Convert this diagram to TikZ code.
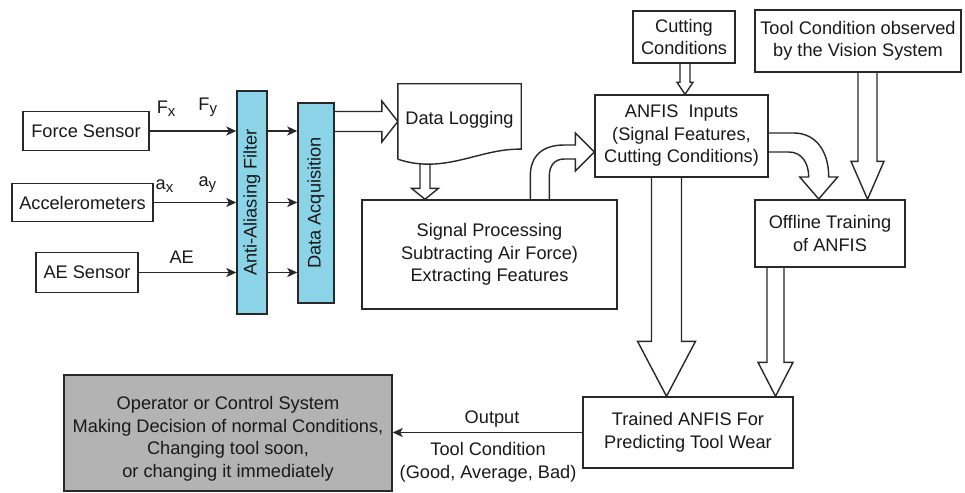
\documentclass[tikz,border=0pt]{standalone}
\usepackage{fontspec}
\setmainfont{Liberation Sans}
\usetikzlibrary{calc,arrows.meta,backgrounds}

\definecolor{filterblue}{RGB}{139,211,230}
\definecolor{panelgray}{RGB}{179,179,179}
\definecolor{linegray}{RGB}{40,40,40}

% hollow block arrows: start, tip, shaft half width, head half width, head length
\newcommand{\vblock}[5]{%
  \draw[blockarrow] ($(#1)+(-#3,0)$) -- ($(#2)+(-#3,-#5)$) -- ($(#2)+(-#4,-#5)$) -- (#2)
    -- ($(#2)+(#4,-#5)$) -- ($(#2)+(#3,-#5)$) -- ($(#1)+(#3,0)$);}
\newcommand{\hblock}[5]{%
  \draw[blockarrow] ($(#1)+(0,-#3)$) -- ($(#2)+(-#5,-#3)$) -- ($(#2)+(-#5,-#4)$) -- (#2)
    -- ($(#2)+(-#5,#4)$) -- ($(#2)+(-#5,#3)$) -- ($(#1)+(0,#3)$);}
% signal subscript
\newcommand{\sub}[1]{\raisebox{-3pt}{\fontsize{15}{15}\selectfont #1}}

\begin{document}
\begin{tikzpicture}[x=1pt,y=-1pt,
    every node/.style={font=\fontsize{18.2}{22.5}\selectfont, text=black!90},
    box/.style={draw=linegray, line width=1.4pt, fill=white, inner sep=0pt, align=center},
    filterbox/.style={box, fill=filterblue, rotate=90},
    outline/.style={draw=linegray, line width=1.4pt, fill=white},
    sig/.style={draw=linegray, line width=1.7pt, -{Stealth[length=10pt,width=9pt,inset=2.5pt]}},
    blockarrow/.style={draw=linegray, line width=1.4pt, fill=white},
    lbl/.style={inner sep=0pt}]
  \useasboundingbox (0,0) rectangle (965,492);

  % Sensors
  \node[box, minimum width=126pt, minimum height=39pt] (fs) at (86,131) {Force Sensor};
  \node[box, minimum width=141pt, minimum height=38pt] (acc) at (82.5,202.5) {Accelerometers};
  \node[box, minimum width=102pt, minimum height=40pt] (ae) at (87,272.5) {AE Sensor};

  % Filter and acquisition bars
  \node[filterbox, minimum width=223pt, minimum height=30pt] (aaf) at (252,202.5) {Anti-Aliasing Filter};
  \node[filterbox, minimum width=200pt, minimum height=36pt] (daq) at (316,203) {Data Acquisition};

  % Signal lines
  \draw[sig] (fs.east) -- (fs.east -| aaf.north)
    node[pos=0.19, above=14pt, lbl] {F\sub{x}}
    node[pos=0.67, above=14pt, lbl] {F\sub{y}};
  \draw[sig] (acc.east) -- (acc.east -| aaf.north)
    node[pos=0.13, above=9pt, lbl] {a\sub{x}}
    node[pos=0.65, above=9pt, lbl] {a\sub{y}};
  \draw[sig] (ae.east) -- (ae.east -| aaf.north)
    node[pos=0.44, above=8pt, lbl] {AE};
  \foreach \s in {fs,acc,ae}
    \draw[sig] (\s.east -| aaf.south) -- (\s.east -| daq.north);

  % Data logging sheet
  \node[lbl, minimum width=123pt, minimum height=75pt] (dl) at (459.5,121.5) {};
  \draw[outline] (dl.south west) -- (dl.north west) -- (dl.north east) -- ([yshift=10pt]dl.south east)
    .. controls (480,148) and (445,175) .. (dl.south west);
  \node[lbl] (dltxt) at ($(dl.center)+(0,-2)$) {Data Logging};

  % Processing and ANFIS boxes
  \node[box, minimum width=255pt, minimum height=109pt] (sp) at (489.5,254.5)
    {Signal Processing\\Subtracting Air Force)\\Extracting Features};
  \node[box, minimum width=102pt, minimum height=52pt] (cut) at (684,37) {Cutting\\Conditions};
  \node[box, minimum width=173pt, minimum height=82pt] (anfis) at (681.5,136)
    {ANFIS\ \ Inputs\\(Signal Features,\\Cutting Conditions)};
  \node[box, minimum width=206pt, minimum height=62pt] (vis) at (858,41)
    {Tool Condition observed\\by the Vision System};
  \node[box, minimum width=150pt, minimum height=67pt] (off) at (830,233.5) {Offline Training\\of ANFIS};
  \node[box, minimum width=210pt, minimum height=71pt] (trn) at (688,432.5)
    {Trained ANFIS For\\Predicting Tool Wear};

  % Operator panel
  \node[box, fill=panelgray, minimum width=328pt, minimum height=116pt] (op) at (228,433) {};
  \node[lbl, align=center] (optxt) at ($(op.center)+(0,6)$)
    {Operator or Control System\\Making Decision of normal Conditions,\\Changing tool soon,\\or changing it immediately};

  % Output line
  \draw[sig] (trn.west) -- (trn.west -| op.east)
    node[pos=0.476, above=4pt, lbl] {Output}
    node[pos=0.497, below=9pt, lbl, align=center] {Tool Condition\\(Good, Average, Bad)};

  % Block arrows
  \begin{pgfonlayer}{background}
    \coordinate (h1) at (daq.south |- dl.west);
    \hblock{h1}{dl.west}{10}{20.5}{16}
    \coordinate (d1) at ($(dl.south)+(-34.5,3)$);
    \coordinate (d2) at (d1 |- sp.north);
    \vblock{d1}{d2}{5}{13.5}{11}
    \coordinate (c1) at ($(cut.south)+(1,0)$);
    \coordinate (c2) at (c1 |- anfis.north);
    \vblock{c1}{c2}{5}{8}{12}
    \coordinate (v1) at ($(vis.south)+(9.5,0)$);
    \coordinate (v2) at (v1 |- off.north);
    \vblock{v1}{v2}{9.5}{16.5}{38}
    \coordinate (a1) at ($(anfis.south)+(-15,0)$);
    \coordinate (a2) at (a1 |- trn.north);
    \vblock{a1}{a2}{15}{29}{55}
    \coordinate (o1) at ($(off.south)+(-54.5,0)$);
    \coordinate (o2) at (o1 |- trn.north);
    \vblock{o1}{o2}{8.5}{17.5}{34}
    % bent arrow into the ANFIS inputs
    \begin{scope}[shift={(anfis.west)}]
      \draw[blockarrow] (-64,64) -- (-64,40) .. controls (-64,20) and (-52,9) .. (-30,9) -- (-19,9)
        -- (-19,-3) -- (0,16) -- (-19,35) -- (-19,23) -- (-30,23)
        .. controls (-40,23) and (-45,30) .. (-45,40) -- (-45,64);
    \end{scope}
    % bent arrow into the offline training
    \begin{scope}[shift={(anfis.east)}]
      \draw[blockarrow] (0,-3) -- (25,-3) .. controls (47,-3) and (60,15) .. (60,41) -- (69,41)
        -- (50,63) -- (31,41) -- (40,41) .. controls (40,27) and (33,16) .. (20,16) -- (0,16);
    \end{scope}
  \end{pgfonlayer}
\end{tikzpicture}
\end{document}
